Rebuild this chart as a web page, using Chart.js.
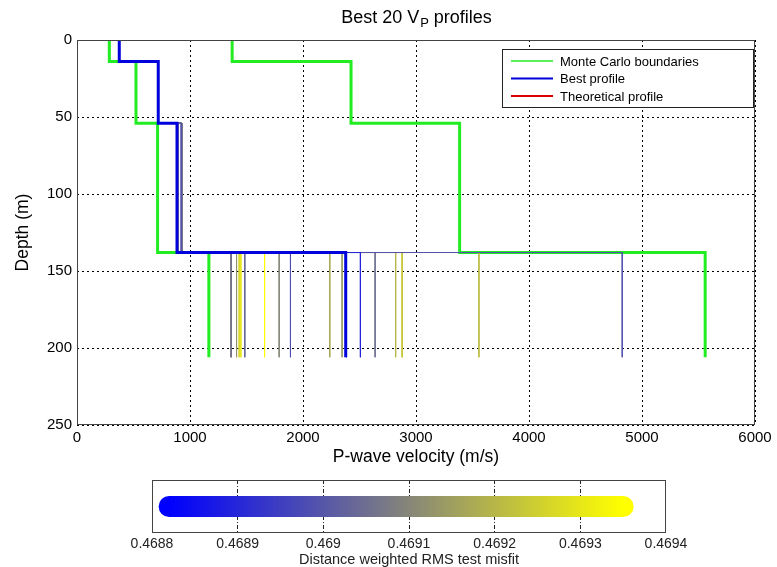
<!DOCTYPE html>
<html>
<head>
<meta charset="utf-8">
<script src="https://cdn.jsdelivr.net/npm/chart.js@4.4.1/dist/chart.umd.min.js"></script>
<style>
	html, body { margin: 0; padding: 0; background: #fff; }
	#wrap { position: relative; width: 777px; height: 567px; }
	#vpChart { position: absolute; left: 0; top: 0; }
	#misfitBar { position: absolute; left: 0; top: 470px; }
</style>
</head>
<body>
<div id="wrap">
	<canvas id="vpChart" width="777" height="470"></canvas>
	<canvas id="misfitBar" width="777" height="97"></canvas>
</div>
<script>
// 층 경계 깊이 (m)
var layerTop = [0, 14, 54, 138];
var layerBase = 206;

// Monte Carlo 경계
var mcMin = [286, 522, 713, 1167];
var mcMax = [1373, 2425, 3386, 5559];

// 최적 프로파일
var bestVp = [374, 719, 885, 2378];
var bestMisfit = 0.46882;

// 나머지 19개 프로파일 (1,2층은 최적과 동일)
var profVp3 = [885, 890, 922, 892, 926, 928, 930, 924, 927, 890, 925, 888, 929, 890, 888, 892, 885, 926, 890];
var profVp4 = [2508, 1889, 4825, 1485, 2638, 1362, 1412, 2346, 1789, 2237, 2820, 3557, 2877, 1435, 1450, 1660, 2385, 1366, 2880];
var profMisfit = [0.46890, 0.46898, 0.46899, 0.46903, 0.46905, 0.46908, 0.46912, 0.46914, 0.46910, 0.46917,
	0.46920, 0.46921, 0.46923, 0.46927, 0.46930, 0.46935, 0.46886, 0.46906, 0.46924];

var velTicks = [0, 1000, 2000, 3000, 4000, 5000, 6000];
var depthTicks = [0, 50, 100, 150, 200, 250];
var misfitTicks = [0.4688, 0.4689, 0.4690, 0.4691, 0.4692, 0.4693, 0.4694];

var legendOrder = ['Monte Carlo boundaries', 'Best profile', 'Theoretical profile'];

var allMisfit = profMisfit.concat([bestMisfit]);
var cMin = Math.min.apply(null, allMisfit);
var cMax = Math.max.apply(null, allMisfit);

function misfitColor(m) {
	var t = (m - cMin) / (cMax - cMin);
	var r = Math.round(255 * t), b = Math.round(255 * (1 - t));
	return 'rgb(' + r + ',' + r + ',' + b + ')';
}

function stepPoints(vp) {
	var pts = [];
	for (var i = 0; i < vp.length; i++) {
		var bottom = i < vp.length - 1 ? layerTop[i + 1] : layerBase;
		pts.push({x: vp[i], y: layerTop[i]});
		pts.push({x: vp[i], y: bottom});
	}
	return pts;
}

var GREEN = '#22ec22';
var BLUE = '#0000dd';

var datasets = [];
datasets.push({
	label: 'Best profile', legendWidth: 2,
	data: stepPoints(bestVp),
	borderColor: BLUE, borderWidth: 3
});
// 좋은 것이 위에 오도록
var order = profMisfit.map(function(m, i) { return i; }).sort(function(a, b) { return profMisfit[a] - profMisfit[b]; });
order.forEach(function(i) {
	datasets.push({
		label: 'profile ' + (i + 1),
		data: stepPoints([bestVp[0], bestVp[1], profVp3[i], profVp4[i]]),
		borderColor: misfitColor(profMisfit[i]), borderWidth: 1
	});
});
datasets.push({
	label: 'Theoretical profile', legendWidth: 2,
	data: [], borderColor: '#dd0000', borderWidth: 2
});
datasets.push({
	label: 'Monte Carlo boundaries', legendWidth: 1.5,
	data: stepPoints(mcMin), borderColor: GREEN, borderWidth: 3
});
datasets.push({
	label: 'Monte Carlo boundaries',
	data: stepPoints(mcMax), borderColor: GREEN, borderWidth: 3
});
datasets.forEach(function(d) {
	d.showLine = true; d.pointRadius = 0; d.fill = false; d.tension = 0;
});

var FONT = 'Liberation Sans, Arial, sans-serif';

var boxPlugin = {
	id: 'box',
	afterDraw: function(chart) {
		var a = chart.chartArea, c = chart.ctx;
		c.save();
		c.strokeStyle = '#444';
		c.lineWidth = 1;
		c.strokeRect(Math.round(a.left) + 0.5, Math.round(a.top) + 0.5, Math.round(a.right - a.left) - 1, Math.round(a.bottom - a.top) - 1);
		c.restore();
	}
};

var titlePlugin = {
	id: 'subTitle',
	afterDraw: function(chart) {
		var c = chart.ctx, a = chart.chartArea;
		var p1 = 'Best 20 V', p2 = 'P', p3 = ' profiles';
		c.save();
		c.fillStyle = '#000';
		c.textBaseline = 'alphabetic';
		c.font = '18px ' + FONT;
		var w1 = c.measureText(p1).width, w3 = c.measureText(p3).width;
		c.font = '13px ' + FONT;
		var w2 = c.measureText(p2).width;
		var x = (a.left + a.right) / 2 - (w1 + w2 + w3) / 2;
		var y = 23;
		c.font = '18px ' + FONT;
		c.fillText(p1, x, y);
		c.font = '13px ' + FONT;
		c.fillText(p2, x + w1 + 1, y + 4);
		c.font = '18px ' + FONT;
		c.fillText(p3, x + w1 + w2 + 1, y);
		c.restore();
	}
};

var legendPlugin = {
	id: 'boxLegend',
	afterDraw: function(chart) {
		var c = chart.ctx, a = chart.chartArea;
		var items = legendOrder.map(function(name) {
			return chart.data.datasets.filter(function(d) { return d.label === name && d.legendWidth; })[0];
		});
		var bx = a.right - 253, by = a.top + 9, bw = 251, bh = 58;
		c.save();
		c.fillStyle = '#fff';
		c.fillRect(bx, by, bw, bh);
		c.strokeStyle = '#222';
		c.lineWidth = 1;
		c.strokeRect(Math.round(bx) + 0.5, Math.round(by) + 0.5, bw, bh);
		c.font = '13px ' + FONT;
		c.textBaseline = 'middle';
		c.fillStyle = '#000';
		items.forEach(function(d, i) {
			var y = by + 12 + i * 17.5;
			c.strokeStyle = d.borderColor;
			c.lineWidth = d.legendWidth;
			c.beginPath();
			c.moveTo(bx + 9, y);
			c.lineTo(bx + 51, y);
			c.stroke();
			c.fillText(d.label, bx + 58, y + 1);
		});
		c.restore();
	}
};

var chartArea1 = document.getElementById('vpChart').getContext('2d');
var vpChart = new Chart(chartArea1, {
	type: 'scatter',
	data: { datasets: datasets },
	plugins: [boxPlugin, titlePlugin, legendPlugin],
	options: {
		responsive: false,
		animation: false,
		events: [],
		layout: { padding: { left: 0, right: 22, top: 40, bottom: 0 } },
		plugins: { legend: { display: false }, tooltip: { enabled: false } },
		scales: {
			x: {
				type: 'linear', min: 0, max: 6000,
				afterBuildTicks: function(s) { s.ticks = velTicks.map(function(v) { return {value: v}; }); },
				afterFit: function(s) { s.height = 45; },
				ticks: { color: '#000', padding: 4, maxRotation: 0, font: { size: 15, family: FONT },
					callback: function(v) { return String(v); } },
				grid: { color: '#000', lineWidth: 1, drawTicks: false },
				border: { display: false, dash: [2, 3] },
				title: { display: true, text: 'P-wave velocity (m/s)', color: '#000', font: { size: 17.5, family: FONT }, padding: { top: 0, bottom: 2 } }
			},
			y: {
				type: 'linear', min: 0, max: 250, reverse: true,
				afterBuildTicks: function(s) { s.ticks = depthTicks.map(function(v) { return {value: v}; }); },
				afterFit: function(s) { s.width = 77; },
				ticks: { color: '#000', padding: 5, font: { size: 15, family: FONT },
					callback: function(v) { return String(v); } },
				grid: { color: '#000', lineWidth: 1, drawTicks: false },
				border: { display: false, dash: [2, 3] },
				title: { display: true, text: 'Depth (m)', color: '#000', font: { size: 17.5, family: FONT }, padding: { top: 13, bottom: 0 } }
			}
		}
	}
});

var chartArea2 = document.getElementById('misfitBar').getContext('2d');
var misfitBar = new Chart(chartArea2, {
	type: 'scatter',
	data: {
		datasets: [{
			label: 'misfit',
			data: [{x: cMin, y: 0}, {x: cMax, y: 0}],
			showLine: true,
			pointRadius: 0,
			borderWidth: 21,
			borderCapStyle: 'round',
			borderColor: function(ctx) {
				var ch = ctx.chart;
				if (!ch.chartArea) return misfitColor(cMin);
				var x0 = ch.scales.x.getPixelForValue(cMin);
				var x1 = ch.scales.x.getPixelForValue(cMax);
				var g = ch.ctx.createLinearGradient(x0, 0, x1, 0);
				g.addColorStop(0, misfitColor(cMin));
				g.addColorStop(0.5, misfitColor((cMin + cMax) / 2));
				g.addColorStop(1, misfitColor(cMax));
				return g;
			}
		}]
	},
	plugins: [boxPlugin],
	options: {
		responsive: false,
		animation: false,
		events: [],
		layout: { padding: { left: 152, right: 111, top: 10, bottom: 0 } },
		plugins: { legend: { display: false }, tooltip: { enabled: false } },
		scales: {
			x: {
				type: 'linear', min: misfitTicks[0], max: misfitTicks[misfitTicks.length - 1],
				afterBuildTicks: function(s) { s.ticks = misfitTicks.map(function(v) { return {value: v}; }); },
				afterFit: function(s) { s.height = 34; },
				ticks: {
					color: '#222', padding: 3, maxRotation: 0, font: { size: 14, family: FONT },
					callback: function(v) { return String(Number(v.toFixed(4))); }
				},
				grid: {
					drawTicks: false, lineWidth: 1,
					color: function(ctx) { return (ctx.index === 0 || ctx.index === misfitTicks.length - 1) ? 'rgba(0,0,0,0)' : '#222'; }
				},
				border: { display: false, dash: [4, 2, 1, 2] },
				title: { display: true, text: 'Distance weighted RMS test misfit', color: '#222', font: { size: 14.5, family: FONT }, padding: { top: 0, bottom: -2 } }
			},
			y: { type: 'linear', min: -1, max: 1, display: false }
		}
	}
});
</script>
</body>
</html>
